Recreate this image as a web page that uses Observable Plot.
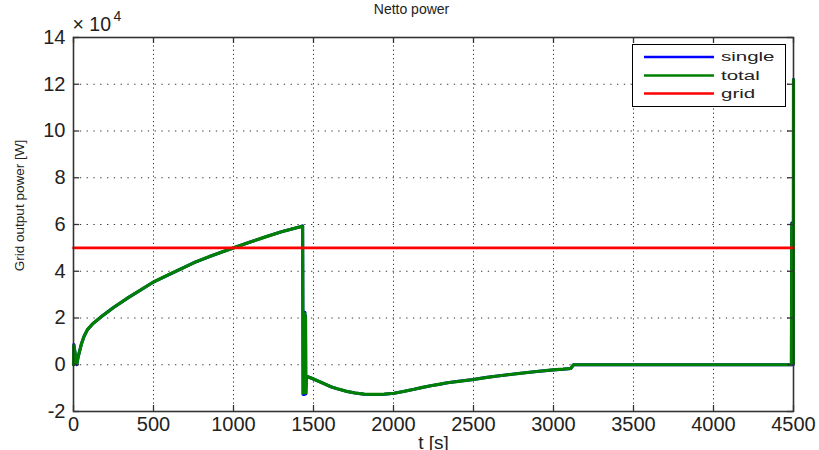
<!DOCTYPE html>
<html><head><meta charset="utf-8">
<script src="https://cdn.jsdelivr.net/npm/d3@7"></script>
<script src="https://cdn.jsdelivr.net/npm/@observablehq/plot@0.6"></script>
<style>
html,body{margin:0;padding:0;background:#fff;}
#wrap{position:relative;width:819px;height:450px;font-family:"Liberation Sans",Arial,sans-serif;}
#legend{position:absolute;left:632px;top:44px;width:152px;height:61px;border:1px solid #000;background:#fff;}
</style></head><body><div id="wrap"></div>
<script>
// ---- data ----
const timeS = [0, 2, 20, 28, 35, 50, 65, 87, 120, 171, 250, 337, 420, 500, 600, 754, 850, 1000, 1100, 1200, 1300, 1421, 1432,
  1435, 1438, 1440, 1442, 1444, 1446, 1448, 1450, 1452, 1456,
  1500, 1547, 1608, 1650, 1702, 1760, 1817, 1880, 1942, 2004, 2065, 2129, 2180, 2233, 2290, 2337, 2420, 2500, 2575, 2650,
  2775, 2880, 2994, 3060, 3108, 3125, 3500, 4000,
  4487, 4489, 4491, 4493, 4495, 4497, 4499, 4500];
const totalW = [0, 8700, 0, 3000, 5000, 9000, 12000, 15000, 17500, 20400, 24500, 28500, 32000, 35400, 38700, 43700, 46300, 50000, 52400, 54700, 56900, 59100, 59400,
  -12700, 22500, -12700, 22000, -12700, 22500, -12500, 21000, -12500, -4900,
  -6100, -7500, -9400, -10300, -11300, -12100, -12600, -12700, -12600, -12200, -11400, -10500, -9700, -9000, -8300, -7700, -7000, -6300, -5500, -4800,
  -3800, -3000, -2200, -1900, -1600, 0, 0, 0,
  0, 60600, 0, 60600, 0, 60600, 0, 122000];
const singleW = totalW.slice();
const gridTimeS = [0, 4500];
const gridW = [50000, 50000];
const xTicks = [0, 500, 1000, 1500, 2000, 2500, 3000, 3500, 4000, 4500];
const yTicks = [-20000, 0, 20000, 40000, 60000, 80000, 100000, 120000, 140000];
const seriesNames = ["single", "total", "grid"];
const seriesColors = ["#0000ff", "#008000", "#ff0000"];
const titleText = "Netto power";
const xLabel = "t [s]";
const yLabel = "Grid output power [W]";

// ---- layout ----
const W = 819, H = 450, mL = 73, mR = 26, mT = 37, mB = 39;
const fw = W - mL - mR, fh = H - mT - mB;
const SQ = 0.65; // vertical squish of text in the reference

const single = timeS.map((t, i) => ({t, p: singleW[i]}));
const total = timeS.map((t, i) => ({t, p: totalW[i]}));
const grid = gridTimeS.map((t, i) => ({t, p: gridW[i]}));
const font = "Liberation Sans, Arial, sans-serif";
const axisCol = "#333";

const chart = Plot.plot({
  width: W, height: H,
  marginLeft: mL, marginRight: mR, marginTop: mT, marginBottom: mB,
  style: {fontFamily: font, background: "#fff", overflow: "visible", color: "#222"},
  x: {domain: [0, 4500], axis: null},
  y: {domain: [-20000, 140000], axis: null},
  marks: [
    Plot.ruleY(yTicks.slice(1, -1), {y: d => d, stroke: "#333", strokeWidth: 1, strokeDasharray: "1.3,5.5"}),
    Plot.ruleX(xTicks.slice(1, -1), {x: d => d, stroke: "#333", strokeWidth: 1, strokeDasharray: "1.2,3"}),
    Plot.line(single, {x: "t", y: "p", stroke: seriesColors[0], strokeWidth: 3}),
    Plot.line(total, {x: "t", y: "p", stroke: seriesColors[1], strokeWidth: 3.2, strokeLinejoin: "miter"}),
    Plot.line(grid, {x: "t", y: "p", stroke: seriesColors[2], strokeWidth: 2.6}),
    Plot.ruleX(xTicks, {x: d => d, insetTop: fh - 6, stroke: axisCol, strokeWidth: 1.3}),
    Plot.ruleX(xTicks, {x: d => d, insetBottom: fh - 6, stroke: axisCol, strokeWidth: 1.3}),
    Plot.ruleY(yTicks, {y: d => d, insetRight: fw - 6, stroke: axisCol, strokeWidth: 1.3}),
    Plot.ruleY(yTicks, {y: d => d, insetLeft: fw - 6, stroke: axisCol, strokeWidth: 1.3}),
    Plot.frame({stroke: axisCol, strokeWidth: 1.6}),
    Plot.text(xTicks, {x: d => d, text: d => String(d), frameAnchor: "bottom", dy: 13, lineAnchor: "middle",
      fontSize: 20, fill: "#222", ariaLabel: "sq-h"}),
    Plot.text(yTicks, {y: d => d, text: d => String(d / 1e4), frameAnchor: "left", dx: -8, textAnchor: "end",
      lineAnchor: "middle", fontSize: 20, fill: "#222", ariaLabel: "sq-h"}),
    Plot.text([titleText], {frameAnchor: "top", dx: -22, dy: -28, lineAnchor: "middle", fontSize: 14, fill: "#222", ariaLabel: "sq-t"}),
    Plot.text([xLabel], {frameAnchor: "bottom", dy: 31, lineAnchor: "middle", fontSize: 19, fill: "#222", ariaLabel: "sq-h"}),
    Plot.text(["\u00d7 10"], {frameAnchor: "top-left", dx: -1, dy: -13, textAnchor: "start", lineAnchor: "middle",
      fontSize: 19.5, fill: "#222", ariaLabel: "sq-h"}),
    Plot.text(["4"], {frameAnchor: "top-left", dx: 40, dy: -21, textAnchor: "start", lineAnchor: "middle",
      fontSize: 14, fill: "#222", ariaLabel: "sq-h"}),
    Plot.text([yLabel], {frameAnchor: "left", dx: -54, dy: -19, rotate: -90, textAnchor: "middle", lineAnchor: "middle",
      fontSize: 13.5, fill: "#222", ariaLabel: "sq-v"})
  ]
});

d3.select(chart).selectAll('g[aria-label="sq-h"] text').attr("transform", function () {
  return this.getAttribute("transform") + ` scale(1,${SQ})`;
});
d3.select(chart).selectAll('g[aria-label="sq-t"] text').attr("transform", function () {
  return this.getAttribute("transform") + ` scale(1,0.85)`;
});
d3.select(chart).selectAll('g[aria-label="sq-v"] text').attr("transform", function () {
  return this.getAttribute("transform") + ` scale(${SQ},1)`;
});

const wrap = document.getElementById("wrap");
wrap.appendChild(chart);

// legend
const leg = document.createElement("div");
leg.id = "legend";
wrap.appendChild(leg);
const ls = d3.select(leg).append("svg").attr("width", 152).attr("height", 61);
const rowY = [12, 30.5, 48.5];
seriesNames.forEach((name, i) => {
  ls.append("line").attr("x1", 11).attr("x2", 81).attr("y1", rowY[i]).attr("y2", rowY[i])
    .attr("stroke", seriesColors[i]).attr("stroke-width", 2.6);
  ls.append("text").attr("transform", `translate(88,${rowY[i]}) scale(1,${SQ})`)
    .attr("dy", "0.32em").attr("font-size", 20.5).attr("font-family", font).attr("fill", "#222").text(name);
});
</script></body></html>
